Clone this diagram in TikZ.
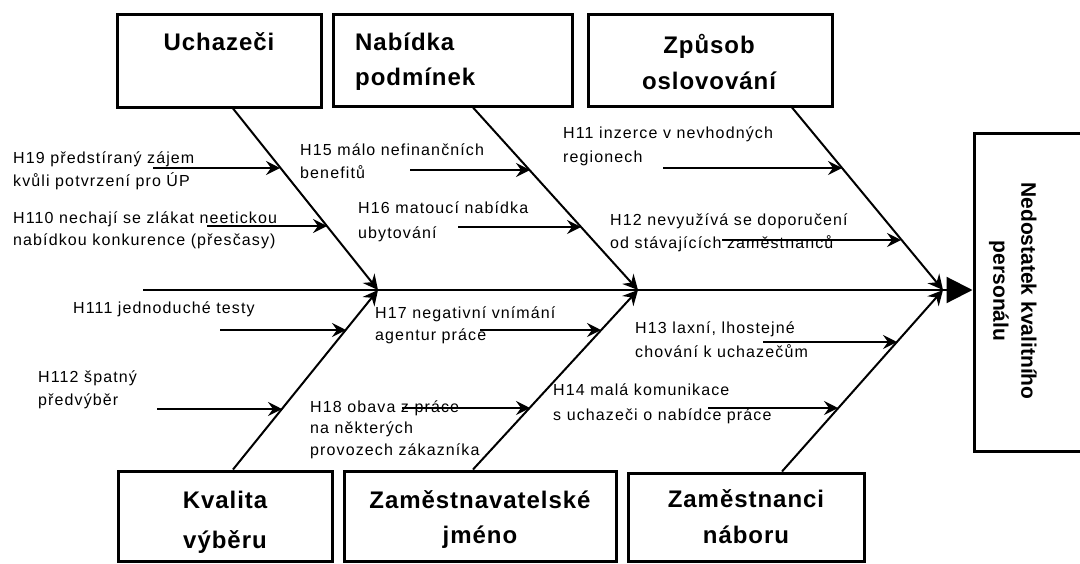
\documentclass[tikz,border=0pt]{standalone}
\usepackage{fontspec}
\setmainfont{Liberation Sans}
\newfontfamily\causeface[LetterSpace=7]{Liberation Sans}
\newfontfamily\headface[LetterSpace=4]{Liberation Sans}
\usetikzlibrary{arrows.meta}

\begin{document}
\begin{tikzpicture}[x=1pt,y=-1pt,
  catbox/.style={draw, line width=3pt, inner sep=0pt},
  bone/.style={line width=2pt, -{Stealth[length=15pt,width=15pt,inset=5pt]}},
  cause/.style={line width=1.7pt, -{Stealth[length=14pt,width=14pt,inset=5pt]}},
  lbl/.style={anchor=base west, inner sep=0pt, align=left, font=\fontsize{16}{23}\causeface},
  head/.style={inner sep=0pt, font=\fontsize{24}{36}\headface\bfseries},
]
\useasboundingbox (0,0) rectangle (1080,563);
\clip (0,0) rectangle (1080,563);

% category boxes
\node[catbox, minimum width=204pt, minimum height=93pt] (uch) at (219,60.5) {};
\node[catbox, minimum width=239pt, minimum height=92pt] (nab) at (452.5,60) {};
\node[catbox, minimum width=244pt, minimum height=92pt] (zpu) at (710,60) {};
\node[catbox, minimum width=214pt, minimum height=90pt] (kva) at (225,516) {};
\node[catbox, minimum width=272pt, minimum height=90pt] (zam) at (480,516) {};
\node[catbox, minimum width=236pt, minimum height=88pt] (zpn) at (746,517) {};
% effect box
\node[catbox, minimum width=126pt, minimum height=318pt] (res) at (1037,292) {};

% category titles (multi-line nodes are placed by the baseline of their last line)
\node[head, anchor=base] (tuch) at (219,50) {Uchazeči};
\node[head, anchor=base west, align=left, font=\fontsize{24}{35}\headface\bfseries] (tnab) at (355,85) {Nabídka\\podmínek};
\node[head, anchor=base, align=center] (tzpu) at (709,89) {Způsob\\oslovování};
\node[head, anchor=base, align=center, font=\fontsize{24}{40}\headface\bfseries] (tkva) at (225,548) {Kvalita\\výběru};
\node[head, anchor=base, align=center, font=\fontsize{24}{35}\headface\bfseries] (tzam) at (480,543) {Zaměstnavatelské\\jméno};
\node[head, anchor=base, align=center] (tzpn) at (746,543) {Zaměstnanci\\náboru};
\node[inner sep=0pt, rotate=-90, align=center, font=\fontsize{21}{28}\selectfont\bfseries] (tres) at (1013,291) {Nedostatek kvalitního\\personálu};

% spine
\coordinate (sp0) at (143,290);
\coordinate (s1) at (378,290);
\coordinate (s2) at (638,290);
\coordinate (s3) at (943,290);
\draw[line width=2.2pt, -{Triangle[length=26pt,width=26pt]}] (sp0) -- (sp0 -| res.west);

% main bones
\draw[bone] ([xshift=14pt]uch.south) -- (s1);
\draw[bone] ([xshift=20.5pt]nab.south) -- (s2);
\draw[bone] ([xshift=82pt]zpu.south) -- (s3);
\draw[bone] ([xshift=8pt]kva.north) -- (s1);
\draw[bone] ([xshift=-7pt]zam.north) -- (s2);
\draw[bone] ([xshift=36pt]zpn.north) -- (s3);

% cause arrows: tail and tip on the bone
\coordinate (c19a) at (153,168);  \coordinate (c19b) at (280,168);
\coordinate (c110a) at (207,226); \coordinate (c110b) at (327,226);
\coordinate (c15a) at (410,170);  \coordinate (c15b) at (530,170);
\coordinate (c16a) at (458,227);  \coordinate (c16b) at (581,227);
\coordinate (c11a) at (663,168);  \coordinate (c11b) at (842,168);
\coordinate (c12a) at (722,240);  \coordinate (c12b) at (901,240);
\coordinate (c111a) at (220,330); \coordinate (c111b) at (346,330);
\coordinate (c112a) at (157,409); \coordinate (c112b) at (282,409);
\coordinate (c17a) at (480,330);  \coordinate (c17b) at (601,330);
\coordinate (c18a) at (402,408);  \coordinate (c18b) at (530,408);
\coordinate (c13a) at (763,342);  \coordinate (c13b) at (897,342);
\coordinate (c14a) at (708,408);  \coordinate (c14b) at (838,408);
\foreach \c in {19,110,15,16,11,12,111,112,17,18,13,14}
  \draw[cause] (c\c a) -- (c\c b);

% cause labels
\node[lbl] (l19) at (13,186) {H19 předstíraný zájem\\kvůli potvrzení pro ÚP};
\node[lbl, font=\fontsize{16}{22}\causeface] (l110) at (13,245) {H110 nechají se zlákat neetickou\\nabídkou konkurence (přesčasy)};
\node[lbl] (l111) at (73,313) {H111 jednoduché testy};
\node[lbl] (l112) at (38,405) {H112 špatný\\předvýběr};
\node[lbl] (l15) at (300,178) {H15 málo nefinančních\\benefitů};
\node[lbl, font=\fontsize{16}{25}\causeface] (l16) at (358,238) {H16 matoucí nabídka\\ubytování};
\node[lbl, font=\fontsize{16}{22}\causeface] (l17) at (375,340) {H17 negativní vnímání\\agentur práce};
\node[lbl, font=\fontsize{16}{21.5}\causeface] (l18) at (310,455) {H18 obava z práce\\na některých\\provozech zákazníka};
\node[lbl, font=\fontsize{16}{24}\causeface] (l11) at (563,162) {H11 inzerce v nevhodných\\regionech};
\node[lbl] (l12) at (610,248) {H12 nevyužívá se doporučení\\od stávajících zaměstnanců};
\node[lbl, font=\fontsize{16}{24}\causeface] (l13) at (635,357) {H13 laxní, lhostejné\\chování k uchazečům};
\node[lbl, font=\fontsize{16}{25}\causeface] (l14) at (553,420) {H14 malá komunikace\\s uchazeči o nabídce práce};
\end{tikzpicture}
\end{document}
